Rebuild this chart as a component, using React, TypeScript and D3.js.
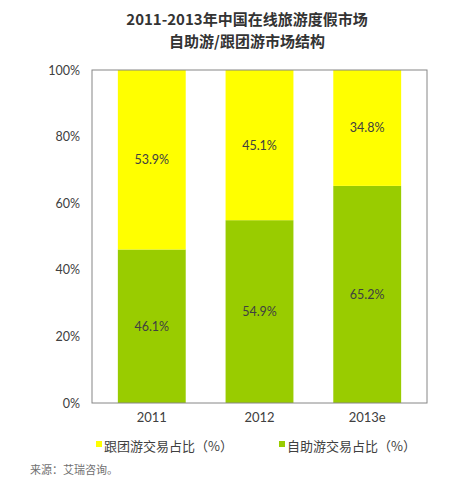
import React, { useEffect, useRef } from 'react';
import * as d3 from 'd3';

const years = ['2011', '2012', '2013e'];
const groupShare = [53.9, 45.1, 34.8];
const selfShare = [46.1, 54.9, 65.2];
const yTicks = [0, 20, 40, 60, 80, 100];

const YELLOW = '#ffff00';
const GREEN = '#99cc00';
const latin = "'Lato', 'Noto Sans CJK SC', sans-serif";
const cjk = "'Noto Sans CJK SC', sans-serif";

const App: React.FC = () => {
  const svgRef = useRef<SVGSVGElement>(null);

  useEffect(() => {
    if (!svgRef.current) return;
    const svg = d3.select(svgRef.current);
    svg.selectAll('*').remove();

    const left = 92, right = 427, top = 70, bottom = 403;

    const x = d3.scaleBand<string>().domain(years).range([left, right]).paddingInner(0.37).paddingOuter(0.24);
    const y = d3.scaleLinear().domain([0, 100]).range([bottom, top]);

    // title
    const title = svg.append('g').attr('font-family', cjk).attr('font-weight', 'bold')
      .attr('font-size', 15).attr('fill', '#333').attr('text-anchor', 'middle');
    title.append('text').attr('x', 247).attr('y', 25).text('2011-2013年中国在线旅游度假市场');
    title.append('text').attr('x', 247).attr('y', 47).text('自助游/跟团游市场结构');

    const rows = years.map((yr, i) => ({ yr, self: selfShare[i], group: groupShare[i] }));

    // bars
    const g = svg.append('g');
    g.selectAll('.self').data(rows).enter().append('rect')
      .attr('x', d => x(d.yr)!).attr('width', x.bandwidth())
      .attr('y', d => y(d.self)).attr('height', d => y(0) - y(d.self))
      .attr('fill', GREEN);
    g.selectAll('.group').data(rows).enter().append('rect')
      .attr('x', d => x(d.yr)!).attr('width', x.bandwidth())
      .attr('y', d => y(d.self + d.group)).attr('height', d => y(d.self) - y(d.self + d.group))
      .attr('fill', YELLOW);

    // value labels
    const lab = svg.append('g').attr('font-family', latin).attr('font-size', 12.5)
      .attr('fill', '#404040').attr('text-anchor', 'middle').attr('dominant-baseline', 'central');
    rows.forEach(d => {
      const cx = x(d.yr)! + x.bandwidth() / 2;
      lab.append('text').attr('x', cx).attr('y', (y(0) + y(d.self)) / 2).text(`${d.self.toFixed(1)}%`);
      lab.append('text').attr('x', cx).attr('y', (y(d.self) + y(d.self + d.group)) / 2).text(`${d.group.toFixed(1)}%`);
    });

    // frame
    svg.append('rect').attr('x', left).attr('y', top).attr('width', right - left).attr('height', bottom - top)
      .attr('fill', 'none').attr('stroke', '#868686').attr('stroke-width', 1);

    // y axis
    const ya = svg.append('g').attr('transform', `translate(${left},0)`)
      .call(d3.axisLeft(y).tickValues(yTicks).tickSize(0).tickPadding(12).tickFormat(d => `${d}%`));
    ya.select('.domain').remove();
    ya.selectAll('text').attr('font-family', latin).attr('font-size', 12.5).attr('fill', '#404040');

    // x axis
    const xa = svg.append('g').attr('transform', `translate(0,${bottom})`)
      .call(d3.axisBottom(x).tickSize(0).tickPadding(10));
    xa.select('.domain').remove();
    xa.selectAll('text').attr('font-family', latin).attr('font-size', 13).attr('fill', '#404040');

    // legend
    const legend = [
      { label: '跟团游交易占比（%）', color: YELLOW, x: 96 },
      { label: '自助游交易占比（%）', color: GREEN, x: 279 },
    ];
    const lg = svg.append('g');
    legend.forEach(l => {
      lg.append('rect').attr('x', l.x).attr('y', 441).attr('width', 6).attr('height', 6).attr('fill', l.color);
      lg.append('text').attr('x', l.x + 8).attr('y', 445).attr('dominant-baseline', 'central')
        .attr('font-family', cjk).attr('font-size', 13).attr('fill', '#404040').text(l.label);
    });

    svg.append('text').attr('x', 30).attr('y', 469).attr('dominant-baseline', 'central')
      .attr('font-family', cjk).attr('font-size', 11).attr('fill', '#707070').text('来源：艾瑞咨询。');
  }, []);

  return (
    <svg ref={svgRef} width={462} height={494}
      style={{ position: 'absolute', left: 0, top: 0, background: '#fff' }} />
  );
};

export default App;
